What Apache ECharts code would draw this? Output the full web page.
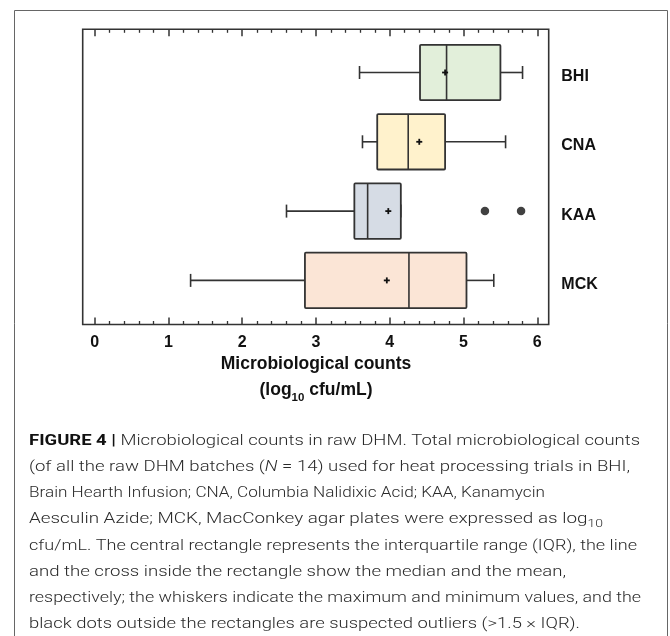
<!DOCTYPE html>
<html><head><meta charset="utf-8">
<script src="https://cdn.jsdelivr.net/npm/echarts@6/dist/echarts.min.js"></script>
<style>html,body{margin:0;padding:0;background:#fff}#c{width:670px;height:636px}</style>
</head><body><div id="c"></div>
<script>
// ---- data ----
const categories   = ['BHI', 'CNA', 'KAA', 'MCK'];
const minValues    = [3.59, 3.63, 2.60, 1.30];
const q1Values     = [4.41, 3.83, 3.52, 2.85];
const medianValues = [4.77, 4.25, 3.70, 4.26];
const q3Values     = [5.50, 4.75, 4.15, 5.04];
const maxValues    = [5.80, 5.57, 4.15, 5.41];
const meanValues   = [4.75, 4.40, 3.98, 3.96];
const outlierCategories = ['KAA', 'KAA'];
const outlierValues     = [5.29, 5.78];
const xTickValues  = [0, 1, 2, 3, 4, 5, 6];
const captionLines = [
  '{b|FIGURE 4 |} Microbiological counts in raw DHM. Total microbiological counts',
  '(of all the raw DHM batches ({i|N} = 14) used for heat processing trials in BHI,',
  'Brain Hearth Infusion; CNA, Columbia Nalidixic Acid; KAA, Kanamycin',
  'Aesculin Azide; MCK, MacConkey agar plates were expressed as log{s|10}',
  'cfu/mL. The central rectangle represents the interquartile range (IQR), the line',
  'and the cross inside the rectangle show the median and the mean,',
  'respectively; the whiskers indicate the maximum and minimum values, and the',
  'black dots outside the rectangles are suspected outliers (>1.5 \u00d7 IQR).'
];

// ---- styles / layout ----
const boxColors = ['#e2efda', '#fff2cc', '#d6dce5', '#fbe5d6'];
const ink = '#333';
const FONT = "'Liberation Sans', Arial, sans-serif";
const CAP_FONT = "Roboto, 'Liberation Sans', sans-serif";
const CAP_SIZE = 15.5;
const captionLeft = 29;
const captionRightEdges = [640, 630, 545, 603, 637, 566, 641, 580];
const capRich = {
  b: {fontSize: CAP_SIZE, fontFamily: CAP_FONT, fontWeight: 'bold', fill: '#111'},
  i: {fontSize: CAP_SIZE, fontFamily: CAP_FONT, fontWeight: 300, fontStyle: 'italic', fill: '#2a2a2a'},
  s: {fontSize: 11.5, fontFamily: CAP_FONT, fontWeight: 300, fill: '#2a2a2a', lineHeight: 22, verticalAlign: 'bottom'}
};

const mctx = document.createElement('canvas').getContext('2d');
function measureRich(line) {
  const re = /\{(\w)\|([^}]*)\}|([^{]+)/g;
  let m, w = 0;
  while ((m = re.exec(line))) {
    if (m[3]) {
      mctx.font = 'normal 300 ' + CAP_SIZE + 'px ' + CAP_FONT;
      w += mctx.measureText(m[3]).width;
    } else {
      const st = capRich[m[1]];
      mctx.font = (st.fontStyle || 'normal') + ' ' + st.fontWeight + ' ' + st.fontSize + 'px ' + CAP_FONT;
      w += mctx.measureText(m[2]).width;
    }
  }
  return w;
}

const chart = echarts.init(document.getElementById('c'), null, {renderer: 'canvas'});

const boxData = categories.map((c, i) => [i, minValues[i], q1Values[i], medianValues[i], q3Values[i], maxValues[i], meanValues[i]]);
const outlierData = outlierValues.map((v, i) => [v, outlierCategories[i]]);

const tickAxisCommon = {
  type: 'value', gridIndex: 1, min: xTickValues[0], max: xTickValues[xTickValues.length - 1], interval: 1,
  axisLine: {show: false},
  axisTick: {show: true, inside: true, length: 7, lineStyle: {color: ink, width: 1.5}},
  minorTick: {show: true, splitNumber: 5, length: 3.5, lineStyle: {color: ink, width: 1.3}},
  splitLine: {show: false}, minorSplitLine: {show: false}
};

const graphics = [{
  type: 'rect', silent: true,
  shape: {x: 14.5, y: 10.5, width: 653, height: 700},
  style: {fill: 'none', stroke: '#666', lineWidth: 1}
}];
captionLines.forEach((t, i) => {
  const sx = (captionRightEdges[i] - captionLeft) / measureRich(t);
  graphics.push({
    type: 'text', silent: true, x: captionLeft, y: 441 + i * 26.2, scaleX: sx,
    style: {
      text: t, fill: '#2a2a2a', fontSize: CAP_SIZE, fontFamily: CAP_FONT, fontWeight: 300,
      verticalAlign: 'middle', rich: capRich
    }
  });
});

chart.setOption({
  animation: false,
  backgroundColor: '#fff',
  grid: [
    {left: 82.7, top: 29.3, width: 466, height: 295.2, show: true, borderColor: ink, borderWidth: 1.6, backgroundColor: 'transparent'},
    {left: 94.7, top: 29.3, width: 442.6, height: 295.2},
    {left: 94.7, top: 37.85, width: 442.6, height: 277.2}
  ],
  xAxis: [
    Object.assign({}, tickAxisCommon, {
      position: 'bottom',
      axisLabel: {show: true, margin: 10, color: '#111', fontSize: 16, fontWeight: 'bold', fontFamily: FONT},
      name: 'Microbiological counts\n(log{sub|10} cfu/mL)',
      nameLocation: 'middle', nameGap: 27,
      nameTextStyle: {
        color: '#111', fontSize: 17.5, fontWeight: 'bold', fontFamily: FONT, lineHeight: 26,
        rich: {sub: {color: '#111', fontSize: 11.5, fontWeight: 'bold', fontFamily: FONT, lineHeight: 20, verticalAlign: 'bottom'}}
      }
    }),
    Object.assign({}, tickAxisCommon, {position: 'top', axisLabel: {show: false}}),
    {type: 'value', gridIndex: 2, min: 0, max: 6, show: false},
    {type: 'value', gridIndex: 0, show: false}
  ],
  yAxis: [
    {type: 'value', gridIndex: 1, show: false},
    {
      type: 'category', gridIndex: 2, data: categories, inverse: true, position: 'right',
      axisLine: {show: false}, axisTick: {show: false}, splitLine: {show: false},
      axisLabel: {show: true, margin: 24, color: '#111', fontSize: 16, fontWeight: 'bold', fontFamily: FONT,
        verticalAlign: 'top', lineHeight: 8.5}
    },
    {type: 'value', gridIndex: 0, show: false}
  ],
  series: [
    {
      type: 'custom', xAxisIndex: 2, yAxisIndex: 1,
      data: boxData,
      encode: {x: [1, 2, 3, 4, 5, 6], y: 0},
      renderItem: function (params, api) {
        const idx = api.value(0);
        const band = api.size([0, 1])[1];
        const h = band * 0.8;
        const pMin = api.coord([api.value(1), idx]);
        const pQ1 = api.coord([api.value(2), idx]);
        const pMed = api.coord([api.value(3), idx]);
        const pQ3 = api.coord([api.value(4), idx]);
        const pMax = api.coord([api.value(5), idx]);
        const pMean = api.coord([api.value(6), idx]);
        const cy = pMin[1];
        const cap = 6.5, cr = 3;
        const ls = {stroke: ink, lineWidth: 1.6, fill: null};
        return {
          type: 'group',
          children: [
            {type: 'line', shape: {x1: pMin[0], y1: cy, x2: pQ1[0], y2: cy}, style: ls},
            {type: 'line', shape: {x1: pQ3[0], y1: cy, x2: pMax[0], y2: cy}, style: ls},
            {type: 'line', shape: {x1: pMin[0], y1: cy - cap, x2: pMin[0], y2: cy + cap}, style: ls},
            {type: 'line', shape: {x1: pMax[0], y1: cy - cap, x2: pMax[0], y2: cy + cap}, style: ls},
            {type: 'rect', shape: {x: pQ1[0], y: cy - h / 2, width: pQ3[0] - pQ1[0], height: h, r: 1},
              style: {fill: boxColors[params.dataIndex], stroke: ink, lineWidth: 1.8}},
            {type: 'line', shape: {x1: pMed[0], y1: cy - h / 2, x2: pMed[0], y2: cy + h / 2}, style: ls},
            {type: 'line', shape: {x1: pMean[0] - cr, y1: pMean[1], x2: pMean[0] + cr, y2: pMean[1]}, style: {stroke: '#111', lineWidth: 1.8}},
            {type: 'line', shape: {x1: pMean[0], y1: pMean[1] - cr, x2: pMean[0], y2: pMean[1] + cr}, style: {stroke: '#111', lineWidth: 1.8}}
          ]
        };
      }
    },
    {
      type: 'scatter', xAxisIndex: 2, yAxisIndex: 1,
      data: outlierData, symbol: 'circle', symbolSize: 8.5,
      itemStyle: {color: '#111'}, z: 5
    }
  ],
  graphic: graphics
});
</script></body></html>
